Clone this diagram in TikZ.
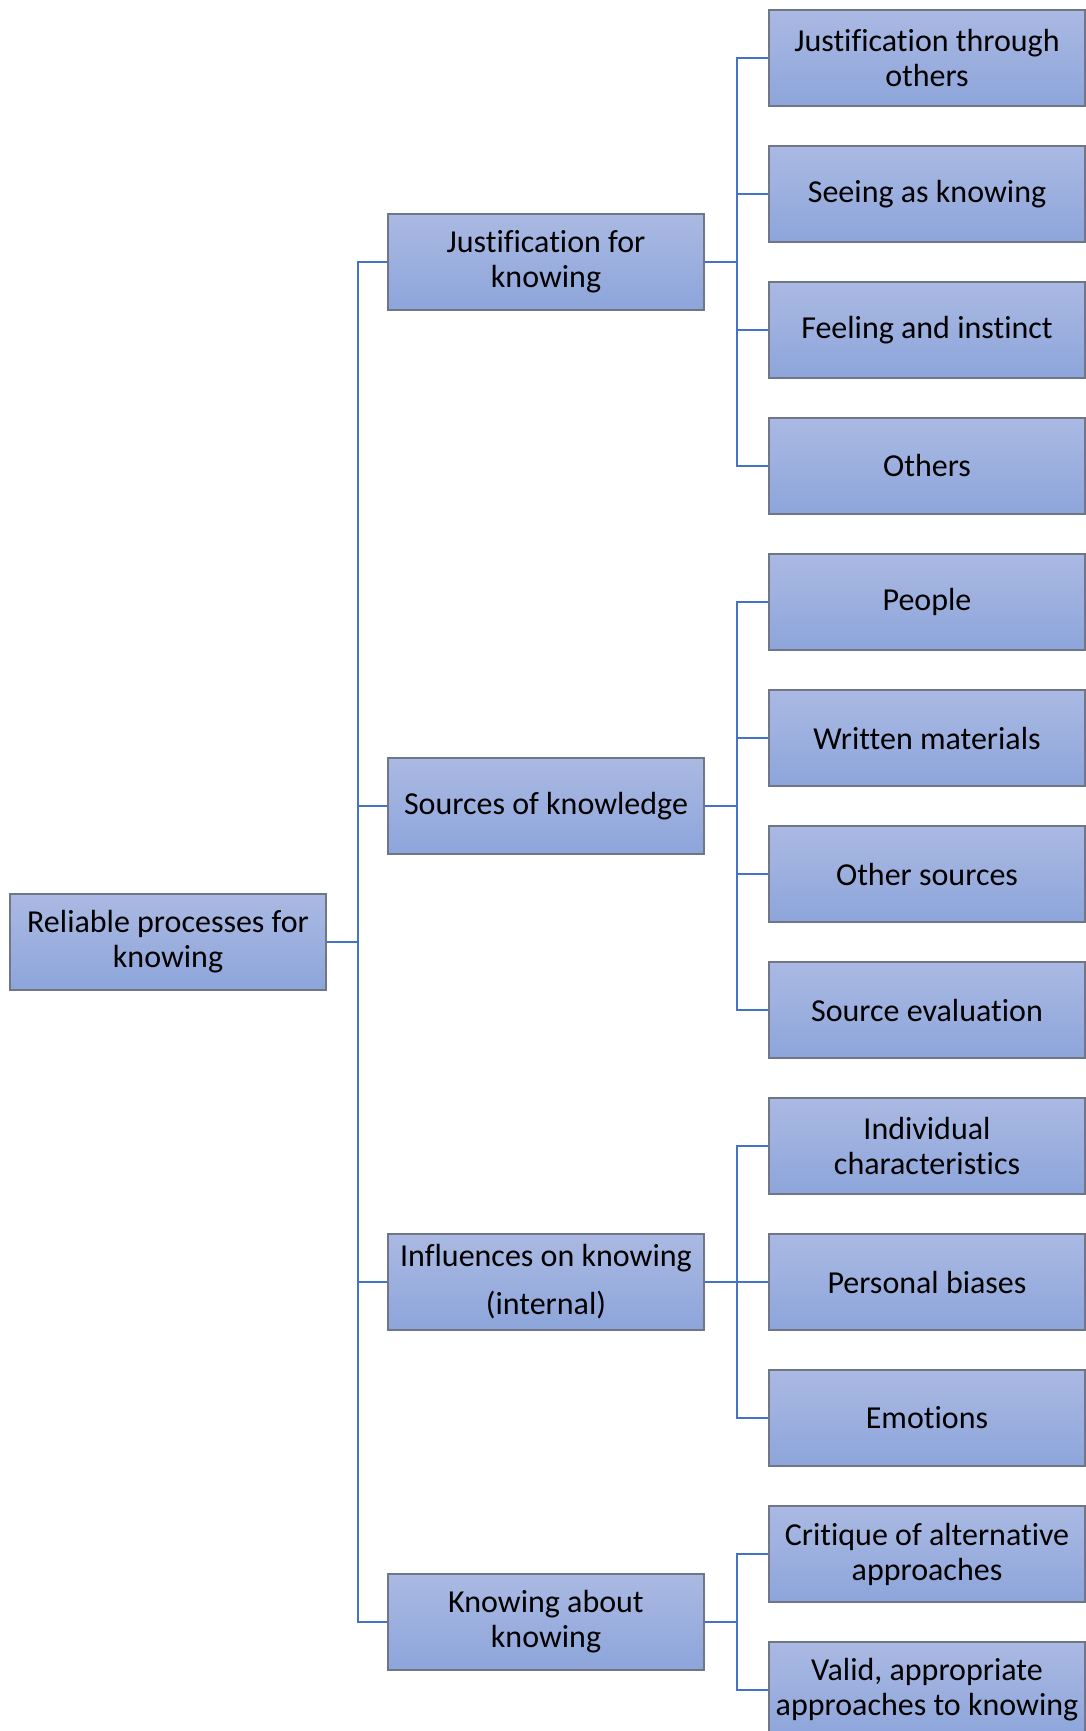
\documentclass[tikz,border=0pt]{standalone}
\usepackage{fontspec}
\setmainfont[Ligatures={NoCommon}]{Carlito}
\usepackage{xcolor}
\usepackage{tikz}
\definecolor{bxtop}{HTML}{AAB9E2}
\definecolor{bxbot}{HTML}{8DA5DB}
\definecolor{bxline}{HTML}{6E7687}
\definecolor{cnline}{HTML}{4472C4}

\begin{document}
\begin{tikzpicture}[x=1pt, y=-1pt,
  box/.style={draw=bxline, line width=1.2pt, top color=bxtop, bottom color=bxbot, minimum width=316pt, minimum height=96pt, inner sep=2pt, align=center, font=\fontsize{32}{35}\selectfont},
  link/.style={draw=cnline, line width=2.8pt}]
  \useasboundingbox (0,0) rectangle (1086,1731);
  % root
  \node[box] (root) at (168,942) {Reliable processes for\\knowing};
  % second level
  \node[box] (jus) at (546,262) {Justification for\\knowing};
  \node[box] (src) at (546,806) {Sources of knowledge};
  \node[box] (inf) at (546,1282) {Influences on knowing\\[13pt](internal)};
  \node[box] (kak) at (546,1622) {Knowing about\\knowing};
  % third level
  \node[box] (jto) at (927,58) {Justification through\\others};
  \node[box] (sak) at (927,194) {Seeing as knowing};
  \node[box] (fai) at (927,330) {Feeling and instinct};
  \node[box] (oth) at (927,466) {Others};
  \node[box] (peo) at (927,602) {People};
  \node[box] (wrm) at (927,738) {Written materials};
  \node[box] (ots) at (927,874) {Other sources};
  \node[box] (sev) at (927,1010) {Source evaluation};
  \node[box] (ich) at (927,1146) {Individual\\characteristics};
  \node[box] (pbi) at (927,1282) {Personal biases};
  \node[box] (emo) at (927,1418) {Emotions};
  \node[box] (cri) at (927,1554) {Critique of alternative\\approaches};
  \node[box] (val) at (927,1690) {Valid, appropriate\\approaches to knowing};
  % buses
  \coordinate (busA) at (358,942);
  \coordinate (busB) at (737,942);
  % root to second level
  \draw[link] (root.east) -- (busA);
  \draw[link] (jus.west) -- (jus.west -| busA) -- (kak.west -| busA) -- (kak.west);
  \foreach \n in {src,inf} \draw[link] (\n.west) -- (\n.west -| busA);
  % second level to third level
  \foreach \n in {jus,src,inf,kak} \draw[link] (\n.east) -- (\n.east -| busB);
  \draw[link] (jto.west) -- (jto.west -| busB) -- (oth.west -| busB) -- (oth.west);
  \draw[link] (peo.west) -- (peo.west -| busB) -- (sev.west -| busB) -- (sev.west);
  \draw[link] (ich.west) -- (ich.west -| busB) -- (emo.west -| busB) -- (emo.west);
  \draw[link] (cri.west) -- (cri.west -| busB) -- (val.west -| busB) -- (val.west);
  \foreach \n in {sak,fai,wrm,ots,pbi} \draw[link] (\n.west) -- (\n.west -| busB);
\end{tikzpicture}
\end{document}
